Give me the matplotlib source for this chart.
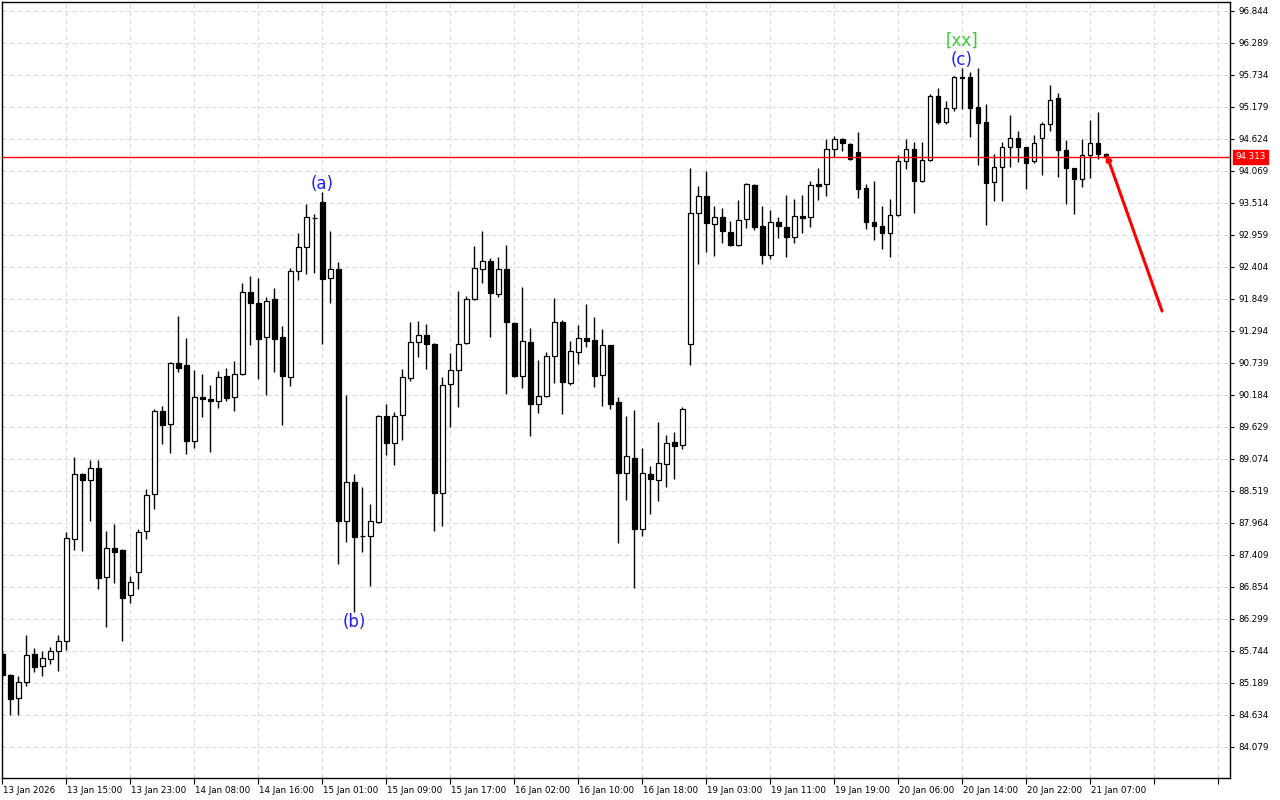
import matplotlib
matplotlib.use("Agg")
import matplotlib.pyplot as plt
import matplotlib.transforms as mtransforms
import numpy as np

# hourly candles, 13 Jan 07:00 .. 21 Jan 08:00
opens = [85.69, 85.33, 84.93, 85.21, 85.69, 85.48, 85.61, 85.74, 85.92, 87.69,
         88.81, 88.71, 88.92, 87.03, 87.53, 87.50, 86.72, 87.11, 87.83, 88.47,
         89.91, 89.68, 90.74, 90.70, 89.39, 90.15, 90.12, 90.08, 90.51, 90.15,
         90.55, 91.97, 91.78, 91.19, 91.85, 91.19, 90.50, 92.34, 92.75, 93.26,
         93.53, 92.21, 92.37, 88.00, 88.68, 87.74, 87.74, 87.98, 89.82, 89.35,
         89.84, 90.48, 91.10, 91.23, 91.07, 88.48, 90.38, 90.62, 91.09, 91.85,
         92.37, 92.51, 91.94, 92.37, 91.43, 90.51, 91.10, 90.03, 90.17, 90.86,
         91.45, 90.39, 90.93, 91.17, 91.14, 90.53, 91.05, 90.06, 88.83, 89.09,
         87.86, 88.81, 88.71, 88.99, 89.37, 89.32, 91.07, 93.34, 93.64, 93.15,
         93.27, 93.01, 92.79, 93.24, 93.83, 93.12, 92.61, 93.19, 93.10, 92.93,
         93.29, 93.27, 93.84, 93.84, 94.45, 94.62, 94.54, 94.40, 93.77, 93.19,
         93.12, 92.99, 93.31, 94.24, 94.45, 93.90, 94.26, 95.37, 94.92, 95.16,
         95.70, 95.70, 95.18, 94.92, 93.88, 94.14, 94.49, 94.64, 94.49, 94.24,
         94.64, 94.88, 95.34, 94.43, 94.12, 93.93, 94.35, 94.56, 94.36]
highs = [85.76, 85.35, 85.31, 86.02, 85.80, 85.74, 85.81, 86.02, 87.81, 89.11,
         88.83, 89.06, 89.06, 87.83, 87.95, 87.51, 87.05, 87.86, 88.55, 89.94,
         89.99, 90.76, 91.55, 91.17, 90.62, 90.55, 90.36, 90.60, 90.65, 90.77,
         92.13, 92.25, 92.21, 91.88, 92.04, 91.38, 92.39, 92.99, 93.50, 93.32,
         93.71, 93.03, 92.49, 90.18, 88.81, 88.59, 88.29, 89.84, 90.03, 89.89,
         90.64, 91.45, 91.47, 91.42, 91.09, 90.50, 90.91, 91.99, 91.90, 92.77,
         93.03, 92.56, 92.58, 92.79, 91.45, 92.06, 91.35, 90.79, 90.93, 91.87,
         91.49, 91.12, 91.40, 91.76, 91.54, 91.33, 91.05, 90.15, 89.82, 89.92,
         89.27, 88.95, 89.72, 89.49, 89.54, 89.98, 94.12, 93.81, 94.07, 93.46,
         93.43, 93.20, 93.57, 93.86, 93.84, 93.46, 93.39, 93.27, 93.65, 93.58,
         93.65, 93.90, 94.12, 94.62, 94.68, 94.64, 94.56, 94.75, 93.84, 93.90,
         93.46, 93.58, 94.35, 94.62, 94.57, 94.57, 95.40, 95.51, 95.28, 95.72,
         95.86, 95.79, 95.86, 95.23, 94.36, 94.57, 95.04, 94.76, 94.49, 94.69,
         94.92, 95.56, 95.42, 94.61, 94.12, 94.62, 94.95, 95.09, 94.38]
lows = [85.24, 84.63, 84.63, 85.14, 85.38, 85.31, 85.52, 85.40, 85.76, 87.50,
        87.48, 88.00, 86.82, 86.16, 86.92, 85.92, 86.58, 86.82, 87.69, 88.21,
        89.33, 89.18, 90.58, 89.16, 89.27, 89.80, 89.20, 89.96, 90.08, 89.91,
        90.53, 91.05, 90.46, 90.18, 90.58, 89.66, 90.34, 92.18, 92.28, 92.30,
        91.07, 91.78, 87.25, 87.64, 86.42, 87.46, 86.87, 87.96, 89.14, 88.97,
        89.40, 90.43, 90.84, 90.64, 87.83, 87.91, 89.63, 89.98, 91.07, 91.83,
        92.13, 91.19, 91.88, 90.20, 90.50, 90.31, 89.47, 89.87, 90.15, 90.39,
        89.86, 90.36, 90.72, 91.02, 90.32, 89.99, 89.94, 87.62, 88.36, 86.84,
        87.74, 88.12, 88.35, 88.59, 88.73, 89.25, 90.70, 92.46, 92.66, 92.60,
        92.82, 92.77, 92.77, 93.08, 93.05, 92.46, 92.54, 92.91, 92.58, 92.82,
        92.99, 93.10, 93.57, 93.64, 94.31, 94.42, 94.26, 93.60, 93.06, 92.87,
        92.72, 92.58, 93.29, 94.10, 93.34, 93.88, 94.24, 94.88, 94.88, 95.11,
        95.15, 94.66, 94.17, 93.13, 93.55, 93.55, 94.14, 94.23, 93.76, 94.21,
        94.00, 94.76, 93.97, 93.50, 93.32, 93.79, 93.95, 94.28, 94.30]
closes = [85.33, 84.91, 85.21, 85.68, 85.47, 85.62, 85.74, 85.92, 87.70, 88.81,
          88.71, 88.92, 87.01, 87.53, 87.46, 86.66, 86.94, 87.81, 88.45, 89.91,
          89.66, 90.74, 90.65, 89.39, 90.15, 90.12, 90.08, 90.50, 90.13, 90.55,
          91.97, 91.78, 91.16, 91.82, 91.16, 90.51, 92.34, 92.75, 93.27, 93.25,
          92.20, 92.37, 88.00, 88.68, 87.72, 87.73, 88.00, 89.82, 89.35, 89.82,
          90.50, 91.10, 91.23, 91.07, 88.48, 90.36, 90.62, 91.07, 91.85, 92.39,
          92.51, 91.95, 92.37, 91.45, 90.51, 91.12, 90.03, 90.17, 90.86, 91.45,
          90.41, 90.95, 91.17, 91.12, 90.51, 91.05, 90.03, 88.83, 89.13, 87.86,
          88.83, 88.73, 89.00, 89.35, 89.30, 89.94, 93.34, 93.64, 93.17, 93.27,
          93.03, 92.79, 93.22, 93.84, 93.10, 92.61, 93.19, 93.12, 92.93, 93.29,
          93.25, 93.83, 93.81, 94.45, 94.62, 94.56, 94.28, 93.76, 93.19, 93.12,
          92.99, 93.31, 94.24, 94.45, 93.90, 94.26, 95.37, 94.92, 95.16, 95.70,
          95.69, 95.16, 94.90, 93.86, 94.14, 94.49, 94.64, 94.49, 94.21, 94.56,
          94.88, 95.30, 94.43, 94.12, 93.93, 94.35, 94.56, 94.36, 94.313]

time_labels = ["13 Jan 2026", "13 Jan 15:00", "13 Jan 23:00", "14 Jan 08:00",
               "14 Jan 16:00", "15 Jan 01:00", "15 Jan 09:00", "15 Jan 17:00",
               "16 Jan 02:00", "16 Jan 10:00", "16 Jan 18:00", "19 Jan 03:00",
               "19 Jan 11:00", "19 Jan 19:00", "20 Jan 06:00", "20 Jan 14:00",
               "20 Jan 22:00", "21 Jan 07:00"]
price_ticks = [96.844 - 0.555 * k for k in range(24)]
last_price = 94.313

# wave marks: (label, candle index, colour, anchored at high or low)
wave_marks = [("(a)", 40, "#1e1eff", "high"),
              ("(b)", 44, "#1e1eff", "low"),
              ("(c)", 120, "#1e1eff", "high")]
forecast_start = (138, 94.38)
forecast_end = (145, 91.64)

o = np.array(opens)
h = np.array(highs)
l = np.array(lows)
c = np.array(closes)
x = np.arange(len(o))

fig = plt.figure(figsize=(12.8, 8), dpi=100)
ax = fig.add_axes([2 / 1280, 22 / 800, 1228 / 1280, 776 / 800])
ax.set_facecolor("white")

ax.set_xlim(-0.04, 153.5)
ax.set_ylim(83.541, 97.0)

# grid
grid_kw = dict(color="#dcdcdc", linewidth=0.8, linestyle=(0, (4, 3)), zorder=0)
for p in price_ticks:
    ax.axhline(p, **grid_kw)
for t in range(0, 154, 8):
    ax.axvline(t, **grid_kw)

# candles
bull = c > o
ax.vlines(x, l, h, color="black", linewidth=1.0, zorder=2)
bottoms = np.minimum(o, c)
heights = np.maximum(np.abs(c - o), 0.004)
ax.bar(x, heights, bottom=bottoms, width=0.6,
       color=np.where(bull, "white", "black"), edgecolor="black",
       linewidth=0.9, zorder=3)

# current price line
ax.axhline(last_price, color="#ff0000", linewidth=1.0, zorder=4)

# wave labels
for text, idx, col, where in wave_marks:
    if where == "high":
        ax.annotate(text, (idx, highs[idx]), xytext=(0, -1), textcoords="offset points",
                    ha="center", va="bottom", color=col, fontsize=12)
    else:
        ax.annotate(text, (idx, lows[idx]), xytext=(0, -1), textcoords="offset points",
                    ha="center", va="top", color=col, fontsize=12)
ax.annotate("[xx]", (120, highs[120]), xytext=(0, 13), textcoords="offset points",
            ha="center", va="bottom", color="#3cc83c", fontsize=12)

# forecast arrow
ax.annotate("", xy=forecast_start, xytext=forecast_end,
            arrowprops=dict(arrowstyle="-|>,head_length=0.35,head_width=0.14",
                            color="#ff0000", lw=2.2, shrinkA=0, shrinkB=0),
            zorder=5)

# axes look
for s in ax.spines.values():
    s.set_color("black")
    s.set_linewidth(1.0)

ax.set_xticks(range(0, 154, 8))
labels = time_labels + [""] * (len(range(0, 154, 8)) - len(time_labels))
ax.set_xticklabels(labels, ha="left", fontsize=6.3)
ax.tick_params(axis="x", length=4, pad=2, direction="out")
offset = mtransforms.ScaledTranslation(1 / 100, 0, fig.dpi_scale_trans)
for lab in ax.get_xticklabels():
    lab.set_transform(lab.get_transform() + offset)

ax.yaxis.tick_right()
ax.set_yticks(price_ticks)
ax.set_yticklabels([f"{p:.3f}" for p in price_ticks], fontsize=6.3)
ax.tick_params(axis="y", length=3, pad=3, direction="out")

# price tag
trans = mtransforms.blended_transform_factory(ax.transAxes, ax.transData)
ax.text(1.0, last_price, "94.313", transform=trans + mtransforms.ScaledTranslation(5 / 100, 0, fig.dpi_scale_trans),
        ha="left", va="center", fontsize=6.3, color="white",
        bbox=dict(boxstyle="square,pad=0.25", facecolor="#ff0000", edgecolor="#ff0000"),
        clip_on=False, zorder=6)

fig.savefig("out.png", dpi=100, facecolor="white")
